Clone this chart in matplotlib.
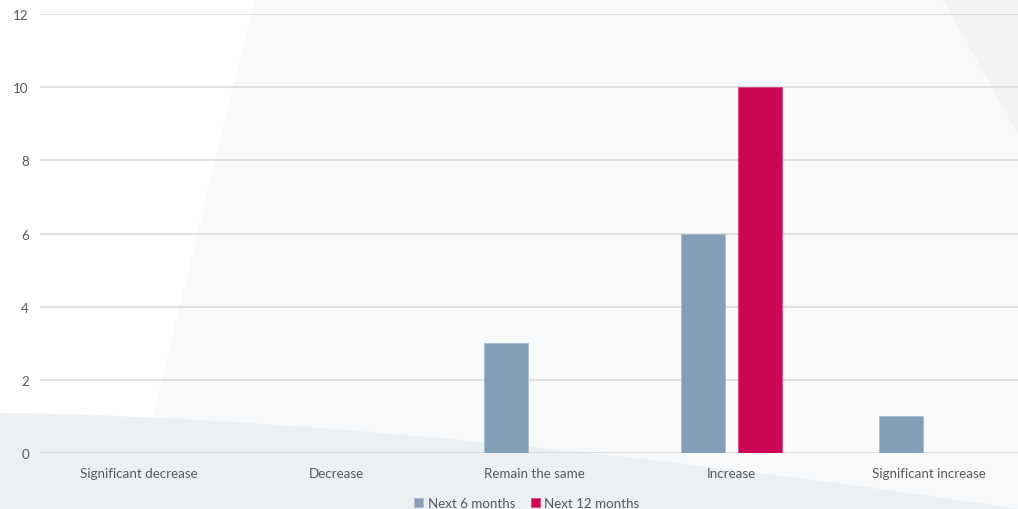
import numpy as np
import matplotlib.pyplot as plt
from matplotlib.patches import Polygon

categories = ['Significant decrease', 'Decrease', 'Remain the same', 'Increase', 'Significant increase']
next_6_months = [0, 0, 3, 6, 1]
next_12_months = [0, 0, 0, 10, 0]
y_ticks = [0, 2, 4, 6, 8, 10, 12]

BLUE = '#839fb8'
RED = '#cc0755'
TEXT = '#595959'
GRID = '#d9d9d9'
FONT = 'Lato'

W, H = 1018, 510
fig = plt.figure(figsize=(W / 100, H / 100), dpi=100)
fig.patch.set_facecolor('white')


def px(points):
    """pixel coords (top-left origin) -> figure fraction"""
    return [(x / W, 1 - y / H) for x, y in points]


# soft background panels
light = Polygon(px([(255, 0), (1018, 0), (1018, 510), (130, 510)]),
                closed=True, transform=fig.transFigure, facecolor='#f8f9fa',
                edgecolor='none', zorder=-3)
corner = Polygon(px([(943, 0), (1018, 0), (1018, 135)]),
                 closed=True, transform=fig.transFigure, facecolor='#f2f3f5',
                 edgecolor='none', zorder=-2)
xs = np.linspace(0, 1018, 60)
band_top = 414 + 96 * (xs / 1018) ** 1.6
band = Polygon(px(list(zip(xs, band_top)) + [(1018, 510), (0, 510)]),
               closed=True, transform=fig.transFigure, facecolor='#edf0f3',
               edgecolor='none', zorder=-1)
for p in (light, corner, band):
    fig.patches.append(p)

ax = fig.add_axes([40 / W, (H - 454) / H, 988 / W, (454 - 15) / H])
ax.set_facecolor('none')
ax.set_zorder(1)

x = np.arange(len(categories))
width = 0.223
offset = 0.144
ax.bar(x - offset, next_6_months, width, color=BLUE, edgecolor='#a9bccd',
       linewidth=0.6, label='Next 6 months', zorder=3)
ax.bar(x + offset, next_12_months, width, color=RED, edgecolor='#d9487f',
       linewidth=0.6, label='Next 12 months', zorder=3)

ax.set_xlim(-0.5, len(categories) - 0.5)
ax.set_ylim(0, 12)
ax.set_yticks(y_ticks)
ax.set_xticks(x)
ax.set_xticklabels(categories)
ax.grid(axis='y', color=GRID, linewidth=1.1, zorder=1)
ax.set_axisbelow(True)
for s in ax.spines.values():
    s.set_visible(False)
ax.tick_params(axis='both', length=0, labelsize=9.6, colors=TEXT)
ax.tick_params(axis='y', pad=8)
ax.tick_params(axis='x', pad=10)
for lab in ax.get_xticklabels() + ax.get_yticklabels():
    lab.set_fontfamily(FONT)

leg = fig.legend(loc='center', bbox_to_anchor=(527 / W, 1 - 504 / H), ncol=2,
                 frameon=False, handlelength=0.65, handleheight=0.65,
                 handletextpad=0.35, columnspacing=1.2,
                 prop={'family': FONT, 'size': 9.6})
for t in leg.get_texts():
    t.set_color(TEXT)

fig.savefig('out.png', dpi=100)
